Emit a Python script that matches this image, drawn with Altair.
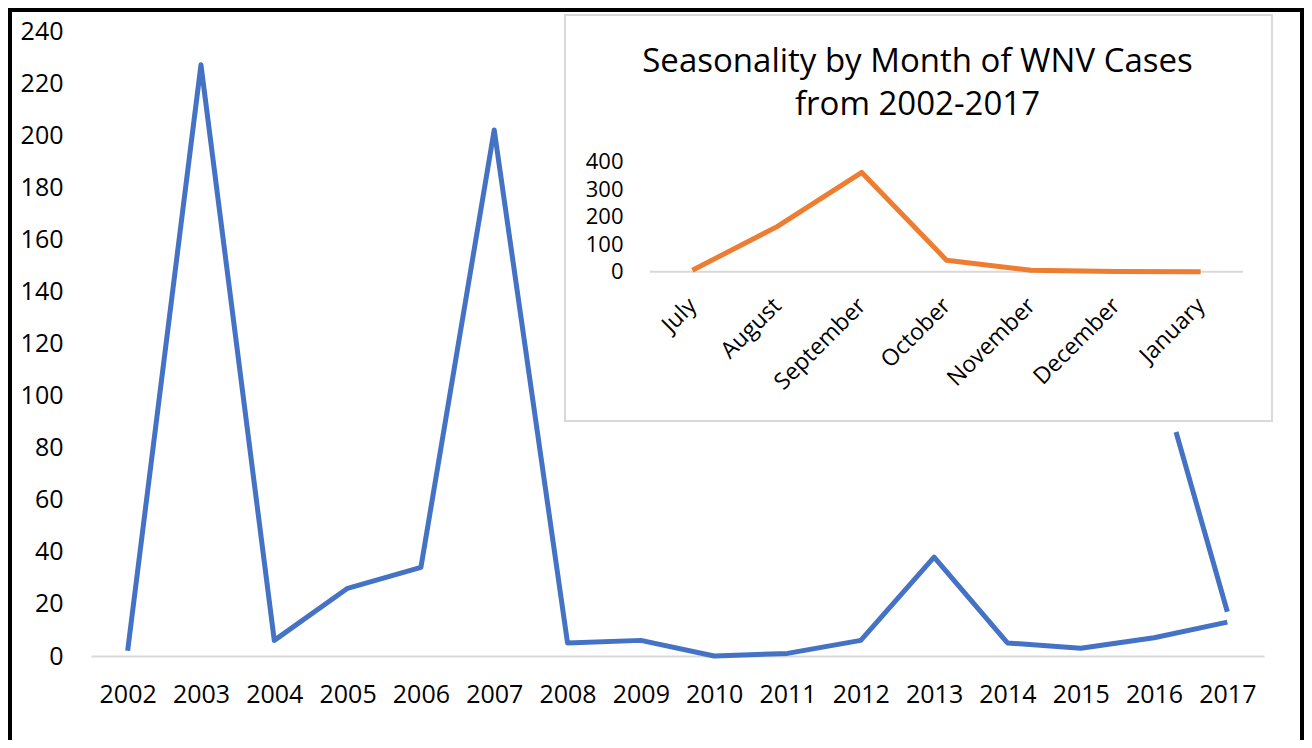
import altair as alt
import pandas as pd

# ---- data ----
years = list(range(2002, 2018))
cases = [2, 227, 6, 26, 34, 202, 5, 6, 0, 1, 6, 38, 5, 3, 7, 13]
stray_years = [2016.3, 2017.0]
stray_cases = [86, 17]
months = ["July", "August", "September", "October", "November", "December", "January"]
month_cases = [5, 164, 361, 42, 5, 1, 0]
y_ticks = list(range(0, 241, 20))
inset_ticks = [0, 100, 200, 300, 400]
title_lines = ["Seasonality by Month of WNV Cases", "from 2002-2017"]

FONT = "Open Sans"
W, H = 1173, 625

main_df = pd.DataFrame({"year": years, "cases": cases})
stray_df = pd.DataFrame({"year": stray_years, "cases": stray_cases})
month_df = pd.DataFrame({"month": months, "cases": month_cases})
zero_df = pd.DataFrame({"cases": [0]})
one_df = pd.DataFrame({"k": [0]})

# ---- main chart ----
x_main = alt.X(
    "year:Q",
    scale=alt.Scale(domain=[2001.5, 2017.5], nice=False, zero=False),
    axis=alt.Axis(orient="bottom", values=years, format="d", title=None, grid=False,
                  ticks=False, domainColor="#d9d9d9", domainWidth=2, labelFont=FONT,
                  labelFontSize=25, labelColor="black", labelPadding=26, labelFlush=False),
)
y_main = alt.Y(
    "cases:Q",
    scale=alt.Scale(domain=[0, 240], nice=False),
    axis=alt.Axis(orient="left", values=y_ticks, title=None, grid=False, ticks=False,
                  domain=False, labelFont=FONT, labelFontSize=25, labelColor="black",
                  labelPadding=28),
)
main_line = alt.Chart(main_df).mark_line(color="#4472C4", strokeWidth=5, strokeJoin="round").encode(x=x_main, y=y_main)
stray_line = alt.Chart(stray_df).mark_line(color="#4472C4", strokeWidth=5).encode(x=x_main, y=y_main)
main = alt.layer(main_line, stray_line)

# ---- inset box ----
inset_box = alt.Chart(one_df).mark_rect(fill="white", stroke="#d9d9d9", strokeWidth=2).encode(
    x=alt.value(474), x2=alt.value(1181), y=alt.value(-16), y2=alt.value(390)
)

# ---- inset chart ----
ix = alt.X(
    "month:N", sort=months,
    scale=alt.Scale(type="point", padding=0.5, range=[559, 1152]),
    axis=alt.Axis(orient="bottom", offset=-384.3, title=None, domain=False, ticks=False,
                  grid=False, labelAngle=-45, labelAlign="right", labelBaseline="middle",
                  labelFont=FONT, labelFontSize=23, labelPadding=30, labelColor="black",
                  zindex=1),
)
iy = alt.Y(
    "cases:Q",
    scale=alt.Scale(domain=[0, 400], range=[240.7, 130.7], nice=False),
    axis=alt.Axis(orient="left", offset=-559, values=inset_ticks, title=None, domain=False,
                  ticks=False, grid=False, labelFont=FONT, labelFontSize=22,
                  labelColor="black", labelPadding=27, zindex=1),
)
inset_rule = alt.Chart(zero_df).mark_rule(color="#d9d9d9", strokeWidth=2).encode(
    x=alt.value(559), x2=alt.value(1152), y=iy
)
inset_line = alt.Chart(month_df).mark_line(color="#ED7D31", strokeWidth=5, strokeJoin="round").encode(x=ix, y=iy)
inset = alt.layer(inset_rule, inset_line)

# ---- outer border ----
border = alt.Chart(one_df).mark_rect(filled=False, stroke="black", strokeWidth=4).encode(
    x=alt.value(-81), x2=alt.value(1211), y=alt.value(-21), y2=alt.value(760)
)

chart = alt.layer(main, inset_box, inset, border).resolve_scale(
    x="independent", y="independent"
).properties(
    width=W, height=H,
    padding={"left": 83, "top": 23, "right": 40, "bottom": 84},
    autosize=alt.AutoSizeParams(type="none"),
    background="white",
    title=alt.TitleParams(text=title_lines, font=FONT, fontSize=33, fontWeight="normal",
                          anchor="middle", frame="group", dx=240, dy=118, lineHeight=43,
                          color="black"),
).configure_view(stroke=None)

chart.save("out.html", embed_options={"renderer": "svg", "actions": False})
